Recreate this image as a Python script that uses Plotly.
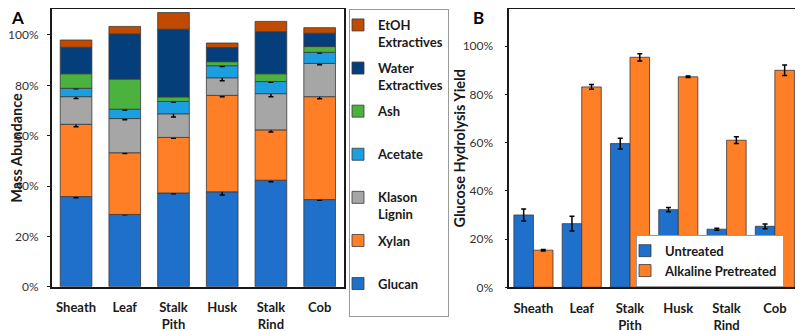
import plotly.graph_objects as go
import numpy as np

# ---------------- data ----------------
categories = ["Sheath", "Leaf", "Stalk<br>Pith", "Husk", "Stalk<br>Rind", "Cob"]

# Panel A: mass abundance (%)
glucan = [35.8, 28.7, 37.2, 37.7, 42.3, 34.6]
xylan = [28.7, 24.5, 22.1, 38.3, 20.0, 40.9]
lignin = [11.0, 13.6, 9.4, 7.0, 14.4, 13.2]
acetate = [3.3, 3.7, 4.9, 4.8, 4.8, 4.4]
ash = [5.8, 12.0, 1.8, 1.6, 3.1, 2.3]
water_extr = [10.5, 17.9, 26.9, 5.6, 16.7, 5.3]
etoh_extr = [2.9, 3.0, 6.6, 1.8, 4.1, 2.2]

glucan_err = [0.5, 0.1, 0.3, 1.3, 0.6, 0.3]
xylan_err = [1.0, 0.3, 0.3, 0.5, 0.8, 0.8]
lignin_err = [0.7, 0.5, 1.3, 1.2, 1.2, 0.5]
acetate_err = [0.2, 0.3, 0.2, 0.3, 0.3, 0.3]

# Panel B: glucose hydrolysis yield (%)
untreated = [30.0, 26.4, 59.6, 32.2, 24.1, 25.3]
untreated_err = [2.5, 3.1, 2.2, 0.9, 0.4, 1.0]
alkaline = [15.4, 83.1, 95.4, 87.3, 61.0, 90.0]
alkaline_err = [0.3, 1.0, 1.5, 0.3, 1.4, 2.2]

components = [
    ("<b>Glucan</b><br>&nbsp;", glucan, glucan_err, "#1F70CB"),
    ("<b>Xylan</b><br>&nbsp;", xylan, xylan_err, "#FF7F27"),
    ("<b>Klason</b><br><b>Lignin</b>", lignin, lignin_err, "#A6A6A6"),
    ("<b>Acetate</b><br>&nbsp;", acetate, acetate_err, "#1C9FE0"),
    ("<b>Ash</b><br>&nbsp;", ash, None, "#4BB13F"),
    ("<b>Water</b><br><b>Extractives</b>", water_extr, None, "#043F7C"),
    ("<b>EtOH</b><br><b>Extractives</b>", etoh_extr, None, "#C04B00"),
]

FONT = "Lato"
W, H = 803, 331
OFF = 8  # page body margin offset


def px(x):
    return (x - OFF) / W


def py(y):
    return 1 - (y - OFF) / H


fig = go.Figure()

cum = np.zeros(len(categories))
n = len(components)
for i, (name, vals, err, col) in enumerate(components):
    vals = np.array(vals, dtype=float)
    kw = {}
    if err is not None:
        kw["error_y"] = dict(type="data", array=err, visible=True,
                             color="black", thickness=1.5, width=2.5)
    fig.add_trace(go.Bar(
        x=categories, y=vals, base=cum.copy(), name=name,
        marker=dict(color=col, line=dict(color="#3a3a3a", width=0.8)),
        offsetgroup="A", width=0.65, xaxis="x", yaxis="y",
        legend="legend", legendgroup=str(i), legendrank=n - i,
        **kw))
    cum = cum + vals

fig.add_trace(go.Bar(
    x=categories, y=untreated, name="<b>Untreated</b>",
    marker=dict(color="#1F70CB", line=dict(color="#3a3a3a", width=0.8)),
    error_y=dict(type="data", array=untreated_err, visible=True,
                 color="black", thickness=1.5, width=2.5),
    offsetgroup="u", xaxis="x2", yaxis="y2", legend="legend2"))
fig.add_trace(go.Bar(
    x=categories, y=alkaline, name="<b>Alkaline Pretreated</b>",
    marker=dict(color="#FF7F27", line=dict(color="#3a3a3a", width=0.8)),
    error_y=dict(type="data", array=alkaline_err, visible=True,
                 color="black", thickness=1.5, width=2.5),
    offsetgroup="p", xaxis="x2", yaxis="y2", legend="legend2"))

axis_line = dict(showline=True, linecolor="#1a1a1a", linewidth=1.5, mirror=True,
                 showgrid=False, zeroline=False, automargin=False)
xtick_font = dict(family=FONT, size=13, color="#1a1a1a", weight="bold")
ytick_font = dict(family=FONT, size=12, color="#333333")
title_font = dict(family=FONT, size=14.5, color="#1a1a1a", weight="bold")

fig.update_layout(
    template="none",
    width=W, height=H,
    margin=dict(l=0, r=0, t=0, b=0, autoexpand=False),
    paper_bgcolor="white", plot_bgcolor="white",
    barmode="group", bargap=0.19, bargroupgap=0,
    font=dict(family=FONT),
    xaxis=dict(domain=[px(51.7), px(344)], anchor="y", tickfont=xtick_font,
               ticks="", ticklabelstandoff=8, **axis_line),
    yaxis=dict(domain=[py(286.7), py(9.3)], anchor="x", range=[0, 110.2],
               dtick=20, ticksuffix="%", ticks="outside", ticklen=3, tickcolor="#1a1a1a",
               tickfont=ytick_font, ticklabelstandoff=6,
               title=dict(text="Mass Abundance", font=title_font), **axis_line),
    xaxis2=dict(domain=[px(509.3), px(799)], anchor="y2", tickfont=xtick_font,
                ticks="", ticklabelstandoff=8, **axis_line),
    yaxis2=dict(domain=[py(287.3), py(9.3)], anchor="x2", range=[0, 115.3],
                dtick=20, ticksuffix="%", ticks="outside", ticklen=3, tickcolor="#1a1a1a",
                tickfont=ytick_font, ticklabelstandoff=9,
                title=dict(text="Glucose Hydrolysis Yield", font=title_font), **axis_line),
    legend=dict(x=px(349), y=py(9), xanchor="left", yanchor="top",
                bgcolor="white", bordercolor="#9a9a9a", borderwidth=1,
                font=dict(family=FONT, size=13, color="#1a1a1a", weight="bold"),
                valign="top", traceorder="grouped", tracegroupgap=6.3,
                itemwidth=30, indentation=-12),
    legend2=dict(x=px(784), y=py(234.7), xanchor="right", yanchor="top",
                 bgcolor="white", bordercolor="#9a9a9a", borderwidth=1,
                 font=dict(family=FONT, size=13, color="#1a1a1a", weight="bold"),
                 itemwidth=30, indentation=-12),
    showlegend=True,
    annotations=[
        dict(text="<b>A</b>", x=px(17.5), y=1, xref="paper", yref="paper",
             xanchor="center", yanchor="top", yshift=3,
             showarrow=False, font=dict(family=FONT, size=17, color="black")),
        dict(text="<b>B</b>", x=px(478), y=1, xref="paper", yref="paper",
             xanchor="center", yanchor="top", yshift=3,
             showarrow=False, font=dict(family=FONT, size=17, color="black")),
    ],
)

fig.write_html("out.html")
